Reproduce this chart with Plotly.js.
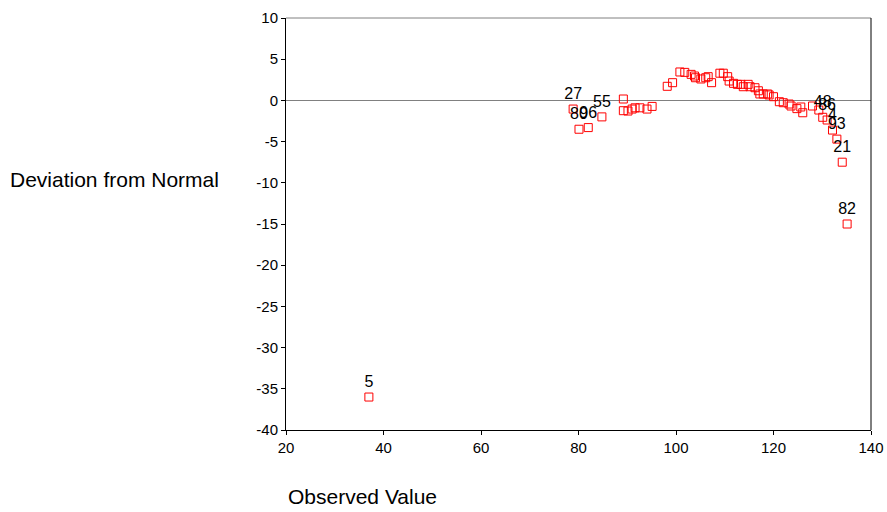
<!DOCTYPE html>
<html>
<head>
<meta charset="utf-8">
<script src="https://cdn.plot.ly/plotly-3.0.1.min.js"></script>
<style>html,body{margin:0;padding:0;background:#fff;}#chart{width:887px;height:512px;}</style>
</head>
<body>
<div id="chart"></div>
<script>
const observed = [37.0, 78.9, 80.1, 82.0, 84.8, 89.2, 89.2, 90.15, 91.0, 91.6, 92.6, 94.05, 95.1,
  98.2, 99.3, 100.8, 101.8, 103.1, 103.8, 104.0, 105.1, 106.1, 106.6, 107.3, 109.0, 109.7,
  110.6, 110.9, 111.8, 112.6, 113.3, 113.8, 114.8, 115.2, 116.2, 116.9, 117.2, 117.9, 118.8,
  119.1, 120.0, 121.2, 122.0, 123.2, 123.6, 124.8, 125.6, 126.0, 128.0, 129.3, 130.1, 131.0,
  132.1, 133.0, 134.1, 135.1];
const deviation = [-36.0, -1.05, -3.5, -3.3, -2.0, 0.17, -1.25, -1.29, -1.05, -0.9, -0.9, -1.05, -0.73,
  1.71, 2.15, 3.45, 3.4, 3.16, 2.96, 2.75, 2.6, 2.75, 2.88, 2.15, 3.3, 3.3,
  2.88, 2.35, 2.07, 1.95, 1.95, 1.66, 1.95, 1.66, 1.54, 1.17, 0.78, 0.78, 0.78,
  0.66, 0.45, -0.16, -0.28, -0.44, -0.68, -1.0, -0.8, -1.5, -0.68, -1.17, -2.05, -2.38,
  -3.6, -4.7, -7.5, -15.0];
const pointLabels = ["5", "27", "80", "96", "55", "", "", "", "", "", "", "", "",
  "", "", "", "", "", "", "", "", "", "", "", "", "",
  "", "", "", "", "", "", "", "", "", "", "", "", "",
  "", "", "", "", "", "", "", "", "", "", "", "48", "86",
  "4", "93", "21", "82"];
const xTicks = [20, 40, 60, 80, 100, 120, 140];
const yTicks = [10, 5, 0, -5, -10, -15, -20, -25, -30, -35, -40];

const font = "Liberation Sans, Arial, sans-serif";
const trace = {
  x: observed, y: deviation, text: pointLabels,
  type: "scatter", mode: "markers+text",
  textposition: "top center",
  textfont: {family: font, size: 16, color: "#000"},
  marker: {symbol: "square-open", size: 8, color: "#ff0000", line: {width: 1, color: "#ff0000"}},
  hoverinfo: "x+y+text", cliponaxis: false
};
const layout = {
  width: 887, height: 512,
  margin: {l: 286, r: 16, t: 18, b: 82},
  paper_bgcolor: "#fff", plot_bgcolor: "#fff",
  showlegend: false,
  font: {family: font, color: "#000"},
  xaxis: {
    range: [20, 140], tickvals: xTicks, ticktext: xTicks.map(String),
    ticks: "outside", ticklen: 4, tickcolor: "#000",
    showline: true, linecolor: "#000", linewidth: 1,
    showgrid: false, zeroline: false,
    tickfont: {family: font, size: 15, color: "#000"}
  },
  yaxis: {
    range: [-40, 10], tickvals: yTicks, ticktext: yTicks.map(String),
    ticks: "outside", ticklen: 4, tickcolor: "#000",
    showline: true, linecolor: "#000", linewidth: 1,
    showgrid: false, zeroline: true, zerolinecolor: "#808080", zerolinewidth: 1,
    tickfont: {family: font, size: 15, color: "#000"}
  },
  shapes: [
    {type: "line", xref: "paper", yref: "paper", x0: 0, x1: 1, y0: 1, y1: 1, line: {color: "#808080", width: 1}},
    {type: "line", xref: "paper", yref: "paper", x0: 1, x1: 1, y0: 0, y1: 1, line: {color: "#000", width: 1}}
  ],
  annotations: [
    {text: "Deviation from Normal", xref: "paper", yref: "paper", x: -0.4752, y: 0.6068,
     xanchor: "left", yanchor: "middle", showarrow: false, font: {family: font, size: 21, color: "#000"}},
    {text: "Observed Value", xref: "paper", yref: "paper", x: 0.13, y: -0.1626,
     xanchor: "center", yanchor: "middle", showarrow: false, font: {family: font, size: 21, color: "#000"}}
  ]
};
Plotly.newPlot("chart", [trace], layout, {displayModeBar: false, staticPlot: true});
</script>
</body>
</html>
